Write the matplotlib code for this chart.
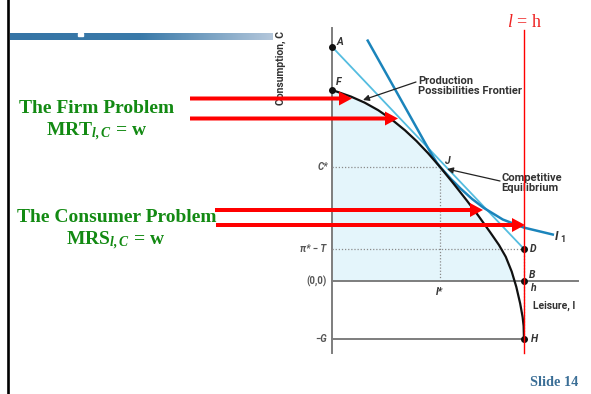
import numpy as np
import matplotlib
matplotlib.use("Agg")
import matplotlib.pyplot as plt
from matplotlib.colors import LinearSegmentedColormap
from matplotlib.patches import Rectangle

# ---------------- data (diagram units) ----------------
h = 100.0            # time endowment (leisure axis)
A_C = 122.0          # point A (budget intercept)
F_C = 99.5           # point F (PPF intercept)
C_star = 59.5        # equilibrium consumption
l_star = 56.25       # equilibrium leisure
piT = 16.7           # pi* - T
G = 30.2             # government spending

ppf_l = [0, 10, 17, 24, 31, 38, 44, 50, 56.25, 63, 70, 76, 82.3, 87, 90.5, 93.6, 96, 98, 99.3, 99.8, 100]
ppf_C = [99.5, 96.0, 92.9, 89.0, 84.2, 78.5, 72.9, 66.6, 59.4, 51.1, 42.2, 34.3, 25.5,
         18.7, 12.6, 4.9, -3.1, -11.7, -18.9, -23.4, -30.2]

i1_l = [18.6, 30, 41.5, 48.5, 52, 54.5, 56.25, 62, 67, 73, 79, 89, 100, 115]
i1_C = [125.2, 104.9, 84.4, 71.9, 65.8, 61.8, 59.5, 53.1, 48.1, 42.7, 38.1, 32.0, 27.8, 24.2]

budget_l = [0, h]
budget_C = [A_C, piT]

firm_title = "The Firm Problem"
firm_eq = r"$\mathbf{MRT}_{\mathbfit{l,C}}\mathbf{\,=\,w}$"
cons_title = "The Consumer Problem"
cons_eq = r"$\mathbf{MRS}_{\mathbfit{l,C}}\mathbf{\,=\,w}$"
slide_label = "Slide 14"

# ---------------- style ----------------
plt.rcParams['mathtext.fontset'] = 'custom'
plt.rcParams['mathtext.rm'] = 'Liberation Serif'
plt.rcParams['mathtext.it'] = 'Liberation Serif:italic'
plt.rcParams['mathtext.bf'] = 'Liberation Serif:bold'
plt.rcParams['mathtext.bfit'] = 'Liberation Serif:bold:italic'

GREEN = '#138a13'
RED = '#ff0000'
LBLUE = '#55bde0'
DBLUE = '#1b84bb'
GRAY = '#7d7d7d'
TXT = '#333333'
SANS = ['Liberation Sans Narrow', 'Roboto', 'DejaVu Sans']

# pixel -> diagram-unit helpers (layout only)
S = 1.92
OX, OY = 332.0, 281.0
def X(px):
    return (px - OX) / S
def Y(py):
    return (OY - py) / S

W, H = 591, 394
fig = plt.figure(figsize=(W / 100, H / 100), dpi=100)
fig.patch.set_facecolor('white')

ax = fig.add_axes([0, 0, 1, 1])
ax.set_xlim(X(0), X(W))
ax.set_ylim(Y(H), Y(0))
ax.axis('off')

# shaded production set
pl = np.array(ppf_l); pc = np.array(ppf_C)
ax.fill_between(pl, pc, 0, where=pc >= 0, interpolate=True, color='#e4f5fb', lw=0, zorder=1)

# axes of the diagram
ax.plot([0, 0], [Y(28), Y(353)], color=GRAY, lw=1.4, zorder=2)
ax.plot([0, X(578)], [0, 0], color=GRAY, lw=1.4, zorder=2)
ax.plot([0, h], [-G, -G], color=GRAY, lw=1.4, zorder=2)

# dotted guide lines
dot = dict(color='#8a8a8a', lw=0.9, ls=(0, (1, 1.5)), zorder=2)
ax.plot([0, l_star], [C_star, C_star], **dot)
ax.plot([l_star, l_star], [C_star, 0], **dot)
ax.plot([0, h], [piT, piT], **dot)
ax.plot([h, h], [piT, -G], **dot)

# curves
ax.plot(budget_l, budget_C, color=LBLUE, lw=1.3, zorder=3)
ax.plot(i1_l, i1_C, color=DBLUE, lw=1.8, zorder=3, solid_joinstyle='round')
ax.plot(ppf_l, ppf_C, color='#111111', lw=1.6, zorder=4, solid_joinstyle='round')

# points
ax.plot([0, 0, h, h, h], [A_C, F_C, piT, 0, -G], 'o', color='#111111', ms=4, zorder=5)

# red l = h line
ax.plot([h, h], [Y(30), Y(353)], color=RED, lw=1.0, zorder=6)

# point labels
lab = dict(fontsize=7.5, color=TXT, family=SANS, fontweight='bold', style='italic', va='center')
ax.text(X(337), Y(42), 'A', ha='left', **lab)
ax.text(X(336), Y(82), 'F', ha='left', **lab)
ax.text(X(444), Y(161), 'J', ha='left', **lab)
ax.text(X(530), piT, 'D', ha='left', **lab)
ax.text(X(529), Y(275), 'B', ha='left', **lab)
ax.text(X(530), Y(288), 'h', ha='left', **lab)
ax.text(X(531), -G, 'H', ha='left', **lab)
ax.text(X(440), Y(292), 'l*', ha='center', **lab)
ax.text(X(555), Y(236), 'I', ha='left', fontsize=9, color=TXT, family=SANS,
        fontweight='bold', style='italic', va='center')
ax.text(X(560.5), Y(239.5), '1', ha='left', fontsize=6.5, color=TXT, family=SANS,
        fontweight='bold', va='center')

vlab = dict(fontsize=7, color='#555555', family=SANS, fontweight='bold', va='center', ha='right')
ax.text(X(328), C_star, 'C*', style='italic', **vlab)
ax.text(X(326), piT, 'π* − T', style='italic', **vlab)
ax.text(X(327), 0, '(0,0)', **vlab)
ax.text(X(327), -G, '−G', style='italic', **vlab)

ax.text(X(533), Y(306), 'Leisure, l', ha='left', va='center', fontsize=7.5, color=TXT,
        family=SANS, fontweight='bold')
ax.text(X(281), Y(68), 'Consumption, C', rotation=90, ha='center', va='center',
        fontsize=7.5, color=TXT, family=SANS, fontweight='bold')

# callouts
ax.text(X(418), Y(86), 'Production\nPossibilities Frontier', ha='left', va='center',
        fontsize=8, color=TXT, family=SANS, fontweight='bold', linespacing=0.95)
ax.text(X(501), Y(183), 'Competitive\nEquilibrium', ha='left', va='center',
        fontsize=8, color=TXT, family=SANS, fontweight='bold', linespacing=0.95)
ap = dict(arrowstyle='-|>', color='#222222', lw=0.9, mutation_scale=9, shrinkA=0, shrinkB=0)
ax.annotate('', xy=(X(363), Y(100)), xytext=(X(416), Y(82)), arrowprops=ap, zorder=7)
ax.annotate('', xy=(X(447), Y(169)), xytext=(X(500), Y(181)), arrowprops=ap, zorder=7)

# ---------------- slide overlay (pixel coordinates) ----------------
ov = fig.add_axes([0, 0, 1, 1])
ov.patch.set_alpha(0)
ov.axis('off')

cmap = LinearSegmentedColormap.from_list('bar', ['#3574a5', '#3a7aa9', '#b4c7db'])
grad = np.linspace(0, 1, 256)[None, :]
ov.imshow(grad, cmap=cmap, extent=[10, 273, 40, 33], aspect='auto', zorder=2)
ov.add_patch(Rectangle((78, 32.5), 5, 3.5, color='white', zorder=3))
ov.plot([8, 8], [0, H], color='black', lw=1.9, zorder=3)

ov.text(96.5, 113, firm_title, ha='center', va='baseline', fontsize=14, color=GREEN,
        family='Liberation Serif', fontweight='bold')
ov.text(96.5, 136, firm_eq, ha='center', va='baseline', fontsize=14, color=GREEN)
ov.text(117, 221.5, cons_title, ha='center', va='baseline', fontsize=14, color=GREEN,
        family='Liberation Serif', fontweight='bold')
ov.text(116, 245, cons_eq, ha='center', va='baseline', fontsize=14, color=GREEN)

ov.text(525, 27, r"$l\,=\,\mathrm{h}$", ha='center', va='baseline', fontsize=13, color='#ee2222')
ov.text(578, 386, slide_label, ha='right', va='baseline', fontsize=10.3, color='#3a6e96',
        family='Liberation Serif', fontweight='bold')

arr = dict(width=4, head_width=14, head_length=13, length_includes_head=True,
           fc=RED, ec='none', zorder=8)
ov.arrow(190, 98.5, 352 - 190, 0, **arr)
ov.arrow(190, 118.5, 398 - 190, 0, **arr)
ov.arrow(215, 210, 483 - 215, 0, **arr)
ov.arrow(216, 225, 525 - 216, 0, **arr)

ov.set_xlim(0, W)
ov.set_ylim(H, 0)

fig.savefig('out.png', dpi=100, facecolor='white')
